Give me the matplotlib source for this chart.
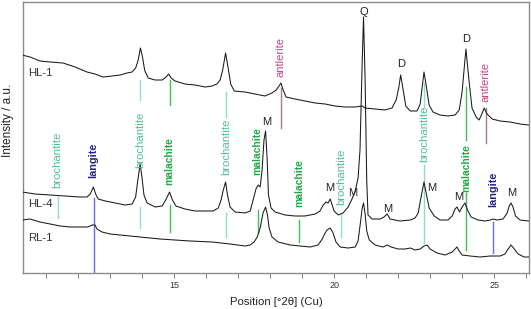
import matplotlib
matplotlib.use("Agg")
import matplotlib.pyplot as plt

plt.rcParams['font.family'] = ['Liberation Sans', 'DejaVu Sans']

# ---- data (2theta, intensity a.u.) ----
hl1_x = [10.24, 10.49, 10.80, 11.12, 11.52, 11.90, 12.27, 12.52, 12.77, 13.05, 13.30, 13.52, 13.68, 13.79,
         13.87, 13.94, 14.01, 14.07, 14.18, 14.40, 14.62, 14.74, 14.82, 14.90, 15.02, 15.33, 15.65, 15.96,
         16.18, 16.33, 16.43, 16.51, 16.60, 16.68, 16.76, 16.87, 17.21, 17.52, 17.83, 18.05, 18.18, 18.27,
         18.33, 18.40, 18.49, 18.77, 19.08, 19.40, 19.71, 20.02, 20.34, 20.65, 20.87, 20.96, 21.27, 21.58,
         21.80, 21.93, 22.01, 22.07, 22.15, 22.23, 22.37, 22.58, 22.68, 22.74, 22.80, 22.88, 22.96, 23.08,
         23.30, 23.55, 23.77, 23.90, 23.99, 24.11, 24.21, 24.30, 24.43, 24.52, 24.58, 24.68, 24.77, 24.93,
         25.18, 25.49, 25.80, 26.08]
hl1_y = [218, 216, 212, 211, 210, 206, 201, 199, 196, 197, 198, 200, 201, 205,
         213, 225, 215, 203, 195, 193, 193, 196, 199, 195, 192, 189, 188, 186,
         187, 189, 193, 203, 220, 205, 189, 182, 181, 179, 177, 180, 183, 187,
         190, 183, 176, 174, 172, 170, 169, 167, 166, 166, 167, 165, 164, 163,
         165, 173, 185, 198, 183, 167, 162, 162, 169, 185, 201, 185, 168, 161,
         158, 157, 158, 163, 181, 224, 191, 165, 156, 153, 157, 165, 159, 154,
         152, 151, 149, 148]

hl4_x = [10.24, 10.65, 11.12, 11.58, 12.05, 12.27, 12.37, 12.47, 12.54, 12.62, 12.84, 13.15, 13.46, 13.68,
         13.79, 13.85, 13.93, 13.99, 14.05, 14.15, 14.40, 14.62, 14.73, 14.85, 14.94, 15.05, 15.33, 15.65,
         15.96, 16.21, 16.37, 16.46, 16.52, 16.60, 16.66, 16.74, 16.90, 17.21, 17.37, 17.46, 17.55, 17.62,
         17.68, 17.74, 17.80, 17.85, 17.90, 17.94, 18.02, 18.15, 18.46, 18.77, 19.08, 19.40, 19.55, 19.65,
         19.74, 19.80, 19.87, 19.93, 19.99, 20.12, 20.27, 20.43, 20.55, 20.65, 20.74, 20.80, 20.87, 20.91,
         20.96, 21.01, 21.05, 21.18, 21.43, 21.55, 21.65, 21.74, 22.05, 22.37, 22.52, 22.62, 22.69, 22.80,
         22.88, 22.96, 23.12, 23.30, 23.55, 23.68, 23.77, 23.83, 23.91, 23.99, 24.08, 24.16, 24.27, 24.49,
         24.71, 24.87, 24.96, 25.08, 25.27, 25.40, 25.46, 25.52, 25.58, 25.66, 25.80, 26.08]
hl4_y = [81, 79, 78, 77, 76, 76, 79, 86, 79, 74, 72, 70, 68, 69,
         76, 91, 109, 95, 78, 70, 66, 67, 73, 81, 73, 67, 64, 62,
         62, 62, 65, 73, 82, 91, 78, 66, 61, 60, 62, 73, 84, 88,
         86, 103, 133, 142, 113, 78, 65, 61, 58, 57, 57, 59, 62, 68,
         71, 70, 74, 68, 62, 58, 60, 66, 74, 82, 95, 123, 213, 256,
         193, 93, 58, 54, 54, 56, 59, 54, 52, 53, 55, 60, 73, 91,
         78, 65, 57, 53, 53, 57, 64, 66, 61, 66, 70, 63, 56, 53,
         52, 53, 54, 53, 54, 60, 67, 70, 66, 57, 53, 52]

rl1_x = [10.24, 10.49, 10.80, 11.12, 11.43, 11.74, 12.05, 12.30, 12.43, 12.52, 12.58, 12.74, 12.99, 13.30,
         13.62, 13.93, 14.24, 14.55, 15.02, 15.49, 16.18, 16.74, 17.21, 17.37, 17.49, 17.59, 17.68, 17.77,
         17.85, 17.91, 17.96, 18.05, 18.24, 18.62, 19.24, 19.49, 19.62, 19.71, 19.77, 19.87, 19.96, 20.05,
         20.18, 20.43, 20.65, 20.74, 20.80, 20.87, 20.91, 20.96, 21.01, 21.09, 21.27, 21.52, 21.65, 21.77,
         21.99, 22.21, 22.37, 22.52, 22.68, 22.80, 22.90, 22.99, 23.21, 23.46, 23.68, 23.77, 23.83, 23.90,
         23.99, 24.24, 24.55, 24.87, 25.18, 25.33, 25.43, 25.52, 25.62, 25.74, 25.93, 26.08]
rl1_y = [53, 54, 51, 49, 47, 46, 46, 46, 48, 48, 44, 41, 39, 38,
         37, 36, 35, 34, 33, 32, 31, 29, 27, 28, 31, 36, 45, 60,
         66, 58, 45, 36, 31, 28, 26, 28, 34, 40, 43, 45, 40, 31,
         26, 25, 26, 32, 47, 65, 70, 59, 42, 33, 28, 26, 28, 26,
         24, 24, 25, 23, 24, 27, 28, 24, 20, 18, 21, 24, 26, 22,
         18, 17, 16, 17, 17, 19, 24, 28, 24, 19, 16, 16]

sample_names = ['HL-1', 'HL-4', 'RL-1']
sample_label_y = [200, 69, 35]

# phase reference lines: phase, 2theta, top, bottom
line_phase = ['brochantite', 'malachite', 'brochantite', 'antlerite', 'brochantite', 'malachite', 'antlerite',
              'brochantite', 'langite', 'brochantite', 'malachite', 'brochantite', 'malachite', 'malachite',
              'brochantite', 'brochantite', 'malachite', 'langite']
line_pos = [13.93, 14.85, 16.61, 18.33, 22.80, 24.11, 24.73,
            11.35, 12.48, 13.93, 14.85, 16.61, 17.60, 18.90,
            20.21, 22.80, 24.11, 24.96]
line_top = [193, 193, 181, 185, 190, 186, 165,
            76, 75, 66, 68, 60, 63, 53,
            58, 108, 80, 51]
line_bot = [173, 168, 156, 145, 165, 133, 130,
            55, 0, 45, 41, 36, 40, 31,
            36, 30, 23, 20]

# phase labels: text, 2theta, bottom of text
label_text = ['brochantite', 'langite', 'brochantite', 'malachite', 'brochantite', 'malachite', 'antlerite',
              'malachite', 'brochantite', 'brochantite', 'malachite', 'antlerite', 'langite']
label_pos = [11.35, 12.48, 13.93, 14.85, 16.61, 17.60, 18.33, 18.90, 20.21, 22.80, 24.11, 24.73, 24.96]
label_y = [85, 95, 105, 88, 98, 98, 196, 66, 68, 111, 81, 171, 66]

# peak letters
peak_text = ['M', 'M', 'M', 'M', 'M', 'M', 'M', 'Q', 'D', 'D']
peak_pos = [17.90, 19.84, 20.58, 21.65, 23.05, 23.87, 25.55, 20.93, 22.08, 24.11]
peak_y = [151, 85, 80, 64, 85, 76, 80, 261, 209, 234]

phase_text_color = {'brochantite': '#4fc190', 'malachite': '#1faa45', 'langite': '#25258c', 'antlerite': '#c8428c'}
phase_line_color = {'brochantite': '#8ee0b6', 'malachite': '#3cbf5c', 'langite': '#6a6aff', 'antlerite': '#b07a7a'}
phase_weight = {'brochantite': 'normal', 'malachite': 'bold', 'langite': 'bold', 'antlerite': 'normal'}
phase_size = {'brochantite': 8.2, 'malachite': 7.4, 'langite': 7.8, 'antlerite': 8.0}

fig = plt.figure(figsize=(5.31, 3.09), dpi=100)
ax = fig.add_axes([0.0427, 0.1165, 0.9535, 0.877])

for xs, ys in [(hl1_x, hl1_y), (hl4_x, hl4_y), (rl1_x, rl1_y)]:
    ax.plot(xs, ys, color='#1a1a1a', lw=0.75, zorder=3)

for ph, x, t, b in zip(line_phase, line_pos, line_top, line_bot):
    ax.plot([x, x], [b, t], color=phase_line_color[ph], lw=1.0, zorder=2)

for txt, x, y in zip(label_text, label_pos, label_y):
    ax.text(x, y, txt, rotation=90, ha='center', va='bottom', color=phase_text_color[txt],
            fontsize=phase_size[txt], fontweight=phase_weight[txt], zorder=4)

for txt, x, y in zip(peak_text, peak_pos, peak_y):
    ax.text(x, y, txt, ha='center', va='center', color='#222222', fontsize=8, zorder=4)

for name, y in zip(sample_names, sample_label_y):
    ax.text(10.43, y, name, ha='left', va='center', color='#333333', fontsize=8.2, zorder=4)

ax.set_xlim(10.26, 26.08)
ax.set_ylim(0, 271)
ax.set_yticks([])
ax.set_xticks([15, 20, 25])
ax.set_xticks(range(11, 27), minor=True)
ax.tick_params(axis='x', which='both', direction='out', length=3.5, width=0.8, color='#808080',
               labelsize=6.5, labelcolor='#333333', pad=2)
for s in ax.spines.values():
    s.set_color('#8a8a8a')
    s.set_linewidth(1.0)

fig.text(0.015, 0.61, 'Intensity / a.u.', rotation=90, ha='center', va='center', fontsize=8.5, color='#222222')
fig.text(0.52, 0.022, 'Position [°2θ] (Cu)', ha='center', va='center', fontsize=8.2, color='#222222')

fig.savefig('out.png', dpi=100)
